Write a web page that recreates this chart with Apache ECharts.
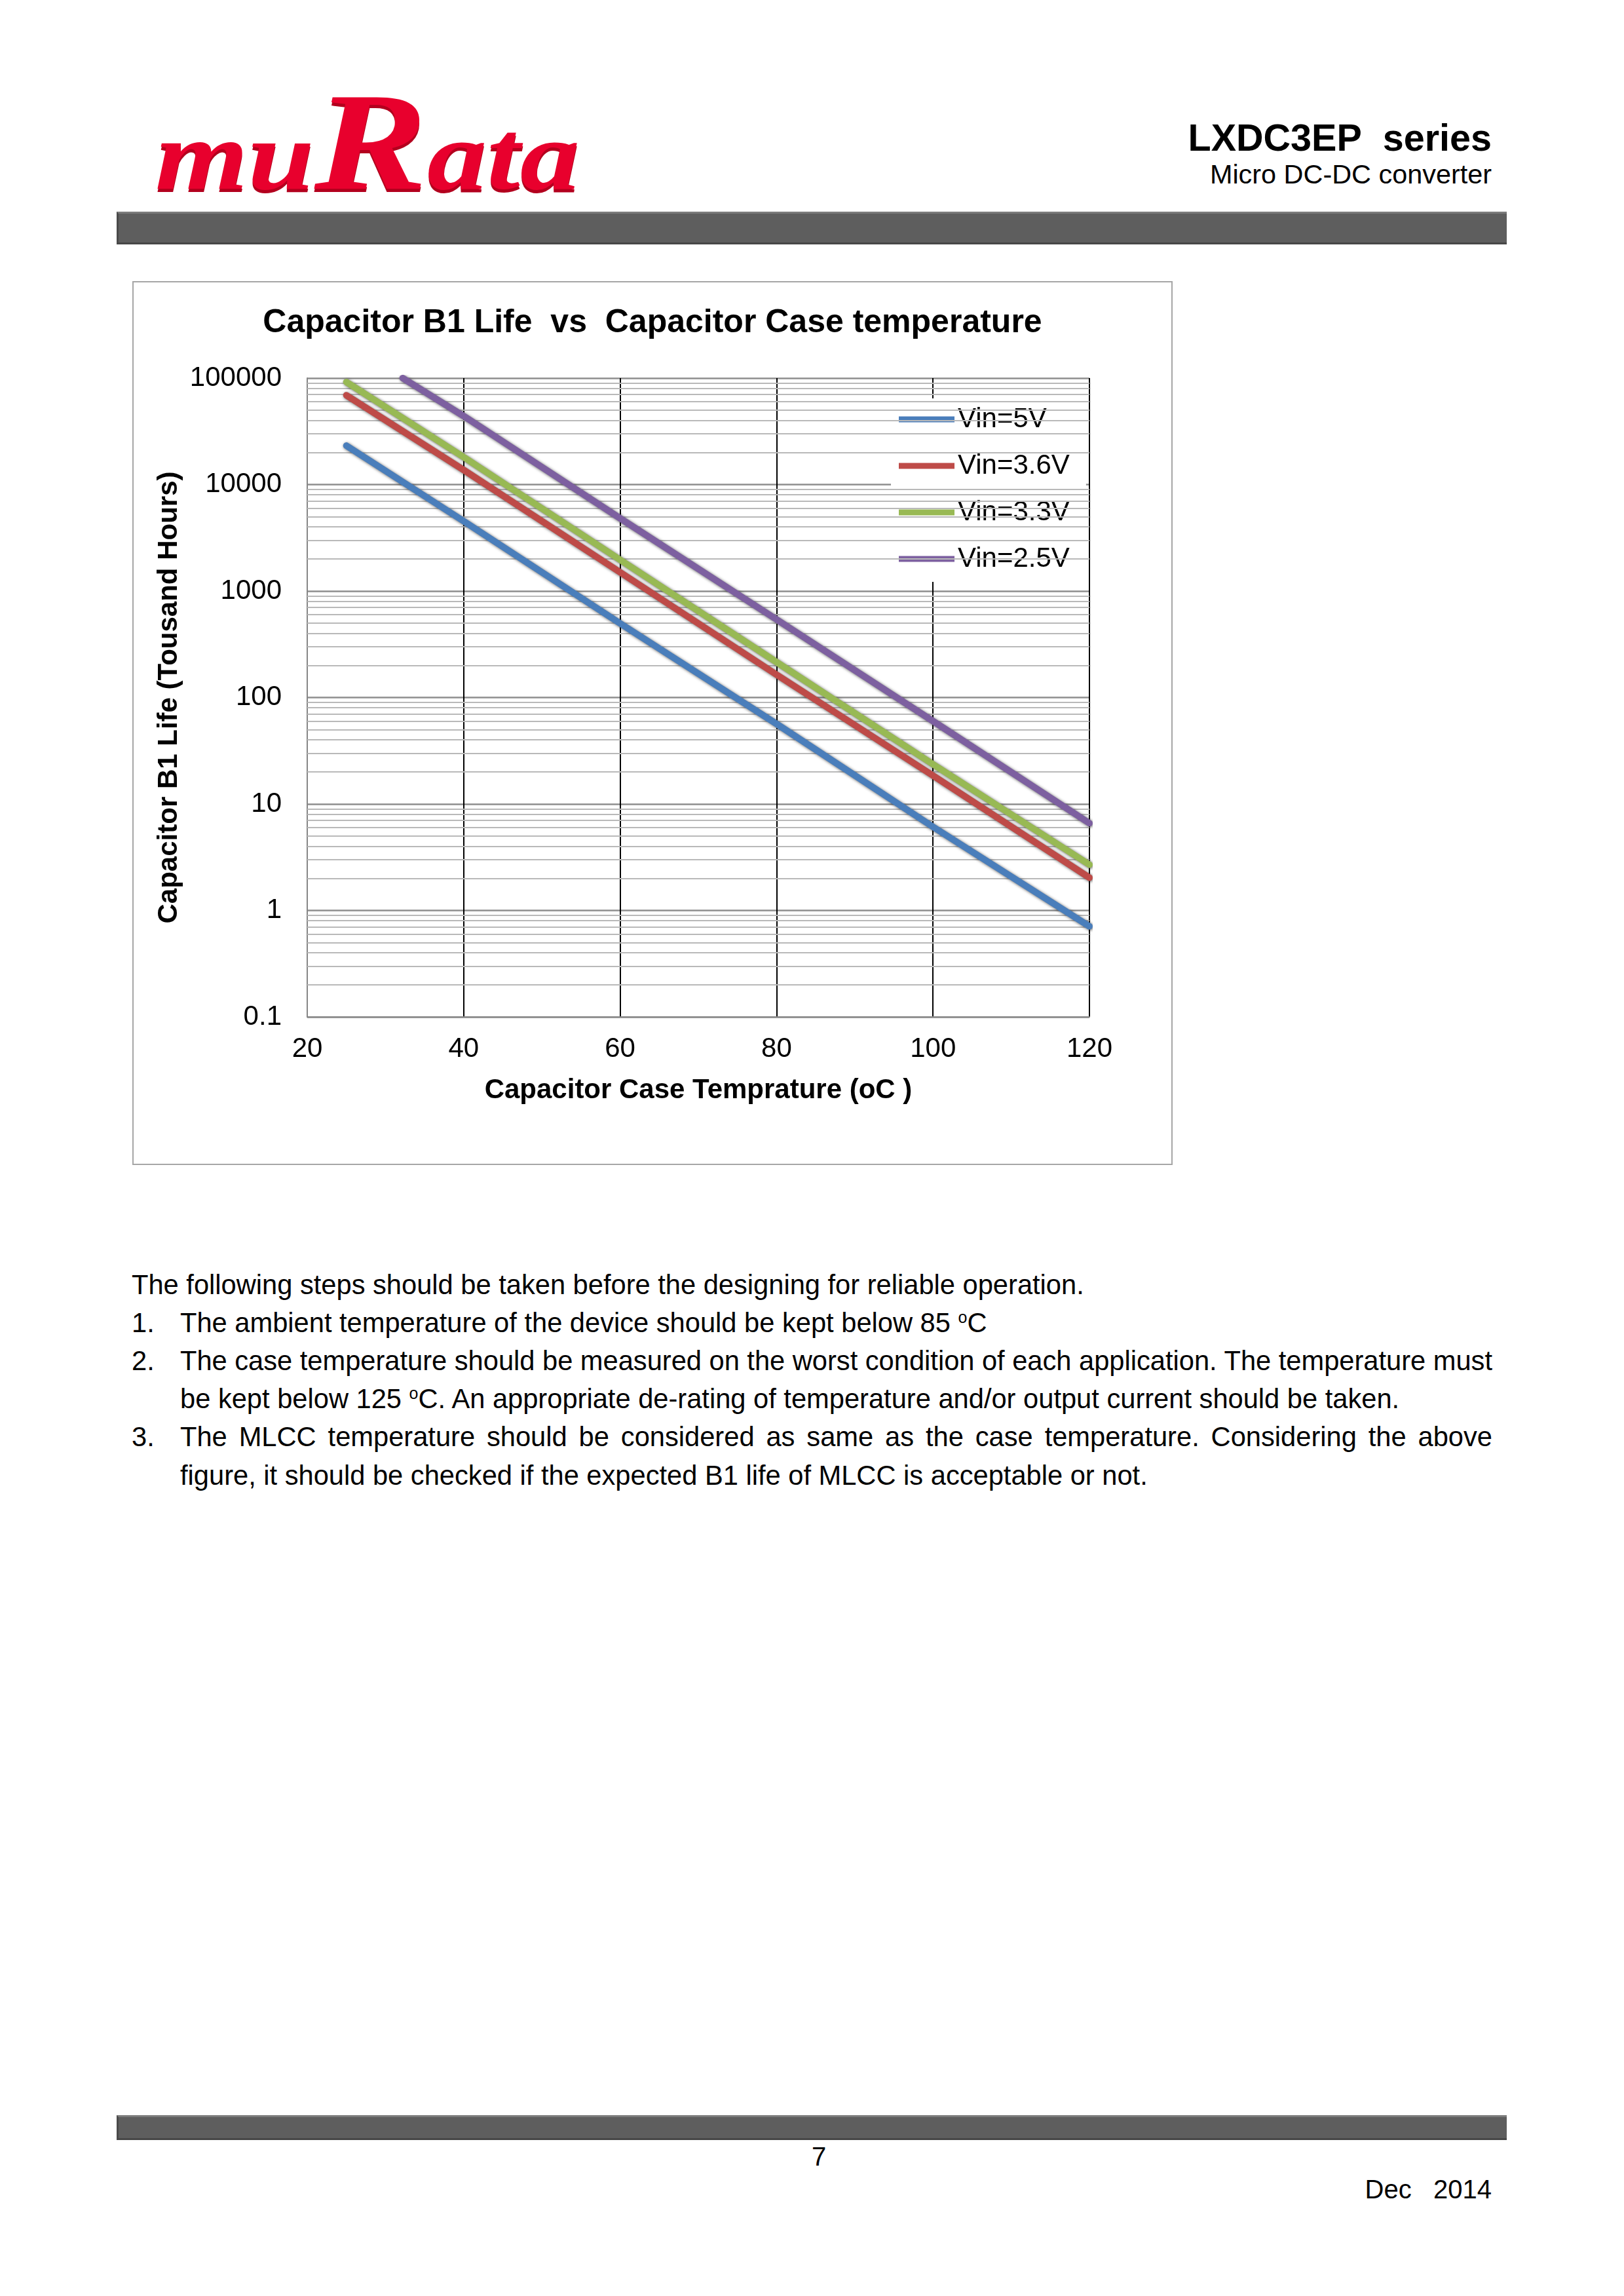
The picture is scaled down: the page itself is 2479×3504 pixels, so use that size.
<!DOCTYPE html>
<html>
<head>
<meta charset="utf-8">
<script src="https://cdn.jsdelivr.net/npm/echarts@6/dist/echarts.min.js"></script>
<style>
html,body{margin:0;padding:0;background:#fff;}
body{width:2479px;height:3504px;position:relative;overflow:hidden;font-family:"Liberation Sans",Arial,sans-serif;color:#000;}
.abs{position:absolute;white-space:nowrap;}
.bar{position:absolute;left:178px;width:2122px;background:#5e5e5e;border-top:3px solid #7c7c7c;border-bottom:3px solid #474747;border-left:3px solid #4a4a4a;box-sizing:border-box;}
.txt{position:absolute;font-size:39px;line-height:50px;white-space:nowrap;}
sup{font-size:60%;vertical-align:0.55em;line-height:0;}
#chartBox{position:absolute;left:204px;top:431px;width:1584px;height:1345px;outline:2px solid #a6a6a6;}
</style>
</head>
<body>
<svg class="abs" style="left:0;top:0;" width="1000" height="400">
  <text x="237" y="293" font-family="Liberation Serif, DejaVu Serif, serif" font-weight="bold" font-style="italic" fill="#b3001e" textLength="648" lengthAdjust="spacingAndGlyphs"><tspan font-size="150">mu</tspan><tspan font-size="213">R</tspan><tspan font-size="150">ata</tspan></text>
  <text x="237" y="288" font-family="Liberation Serif, DejaVu Serif, serif" font-weight="bold" font-style="italic" fill="#e8002d" textLength="648" lengthAdjust="spacingAndGlyphs"><tspan font-size="150">mu</tspan><tspan font-size="213">R</tspan><tspan font-size="150">ata</tspan></text>
</svg>
<div class="abs" style="right:202px;top:180px;font-size:57.5px;font-weight:bold;line-height:60px;">LXDC3EP&nbsp; series</div>
<div class="abs" style="right:202px;top:244px;font-size:41.4px;line-height:44px;">Micro DC-DC converter</div>
<div class="bar" style="top:323px;height:50px;"></div>

<div id="chartBox"></div>

<div class="txt" id="l1" style="left:201px;top:1936px;">The following steps should be taken before the designing for reliable operation.</div>
<div class="txt" style="left:201px;top:1994px;">1.</div>
<div class="txt" style="left:275px;top:1994px;">The ambient temperature of the device should be kept below 85 <sup>o</sup>C</div>
<div class="txt" style="left:201px;top:2052px;">2.</div>
<div class="txt just" style="left:275px;top:2052px;">The case temperature should be measured on the worst condition of each application. The temperature must</div>
<div class="txt" style="left:275px;top:2110px;">be kept below 125 <sup>o</sup>C. An appropriate de-rating of temperature and/or output current should be taken.</div>
<div class="txt" style="left:201px;top:2168px;">3.</div>
<div class="txt just" style="left:275px;top:2168px;">The MLCC temperature should be considered as same as the case temperature. Considering the above</div>
<div class="txt" style="left:275px;top:2227px;">figure, it should be checked if the expected B1 life of MLCC is acceptable or not.</div>

<div class="bar" style="top:3228px;height:38px;"></div>
<div class="abs" style="left:1230px;width:40px;text-align:center;top:3267px;font-size:40px;line-height:48px;">7</div>
<div class="abs" style="right:202px;top:3317px;font-size:40px;line-height:48px;">Dec&nbsp;&nbsp; 2014</div>

<script>
// ---- data ----
const temps = [25, 40, 60, 80, 100, 120];
const temps25V = [32.2, 40, 60, 80, 100, 120];
const life5V = [23200, 4530, 497, 56.5, 6.1, 0.71];
const life36V = [69000, 13700, 1500, 164, 18.5, 2.03];
const life33V = [91800, 18100, 1965, 215, 23.6, 2.69];
const life25V = [100000, 44000, 4820, 541, 60, 6.6];
const seriesNames = ['Vin=5V', 'Vin=3.6V', 'Vin=3.3V', 'Vin=2.5V'];
const seriesColors = ['#4a7ebb', '#be4b48', '#98b954', '#7d60a0'];
const xTickLabels = ['20', '40', '60', '80', '100', '120'];
const yTickLabels = ['0.1', '1', '10', '100', '1000', '10000', '100000'];
const chartTitle = 'Capacitor B1 Life  vs  Capacitor Case temperature';
const xAxisTitle = 'Capacitor Case Temprature (oC )';
const yAxisTitle = 'Capacitor B1 Life (Tousand Hours)';

// fit paragraph font size to first line width, then justify chosen lines
(function(){
  const l1 = document.getElementById('l1');
  const w = l1.getBoundingClientRect().width;
  const fs = 39 * 1454 / w;
  document.querySelectorAll('.txt').forEach(e => e.style.fontSize = fs.toFixed(2) + 'px');
  const target = 2003;
  document.querySelectorAll('.just').forEach(e => {
    const nat = e.getBoundingClientRect().width;
    const spaces = (e.textContent.match(/ /g) || []).length;
    if (spaces > 0) e.style.wordSpacing = ((target - nat) / spaces).toFixed(3) + 'px';
  });
})();

const FONT = '"Liberation Sans", Arial, sans-serif';
const minorVals = [];
[0.1, 1, 10, 100, 1000, 10000].forEach(d => { for (let m = 2; m <= 9; m++) minorVals.push(+(d * m).toPrecision(3)); });

const pairs = (xs, ys) => xs.map((x, i) => [x, ys[i]]);
const seriesData = [pairs(temps, life5V), pairs(temps, life36V), pairs(temps, life33V), pairs(temps25V, life25V)];

const chart = echarts.init(document.getElementById('chartBox'), null, {renderer: 'canvas'});
const series = [{
  name: 'grid-minor', type: 'line', data: [], silent: true, z: 1,
  markLine: {
    silent: true, symbol: ['none', 'none'], animation: false,
    label: {show: false},
    lineStyle: {color: '#b9b9b9', width: 2, type: 'solid'},
    emphasis: {disabled: true},
    data: minorVals.map(v => ({yAxis: v}))
  }
}];
seriesNames.forEach((n, i) => series.push({
  name: n, type: 'line', data: seriesData[i], showSymbol: false, symbol: 'none', z: 5,
  clip: true,
  color: seriesColors[i],
  lineStyle: {color: seriesColors[i], width: 10, cap: 'round',
    shadowColor: 'rgba(30,30,30,0.7)', shadowBlur: 4, shadowOffsetX: 1, shadowOffsetY: 1},
  emphasis: {disabled: true}
}));

chart.setOption({
  animation: false,
  backgroundColor: '#fff',
  textStyle: {fontFamily: FONT},
  title: {
    text: chartTitle, left: 'center', top: 32,
    textStyle: {fontFamily: FONT, fontSize: 50, fontWeight: 'bold', color: '#000'}
  },
  grid: {left: 265, top: 146, width: 1194, height: 975, containLabel: false},
  legend: {
    data: seriesNames, orient: 'vertical', left: 1156, top: 177,
    backgroundColor: '#fff', padding: [9, 25, 12, 12],
    icon: 'rect', itemWidth: 85, itemHeight: 9, itemGap: 25,
    textStyle: {fontFamily: FONT, fontSize: 42, color: '#000', lineHeight: 46}
  },
  xAxis: {
    type: 'value', min: 20, max: 120, interval: 20,
    name: xAxisTitle, nameLocation: 'middle', nameGap: 91,
    nameTextStyle: {fontFamily: FONT, fontSize: 42, fontWeight: 'bold', color: '#000'},
    axisLine: {show: true, lineStyle: {color: '#868686', width: 2}},
    axisTick: {show: false},
    axisLabel: {fontFamily: FONT, fontSize: 42, color: '#000', margin: 28,
      formatter: v => xTickLabels[Math.round((v - 20) / 20)]},
    splitLine: {show: true, lineStyle: {color: '#000', width: 2}}
  },
  yAxis: {
    type: 'log', logBase: 10, min: 0.1, max: 100000,
    name: yAxisTitle, nameLocation: 'middle', nameGap: 182,
    nameTextStyle: {fontFamily: FONT, fontSize: 42, fontWeight: 'bold', color: '#000'},
    axisLine: {show: true, lineStyle: {color: '#868686', width: 2}},
    axisTick: {show: false},
    axisLabel: {fontFamily: FONT, fontSize: 42, color: '#000', margin: 39,
      formatter: v => yTickLabels[Math.round(Math.log10(v)) + 1]},
    splitLine: {show: true, lineStyle: {color: '#8e8e8e', width: 2.5}}
  },
  series: series
});
</script>
</body>
</html>
